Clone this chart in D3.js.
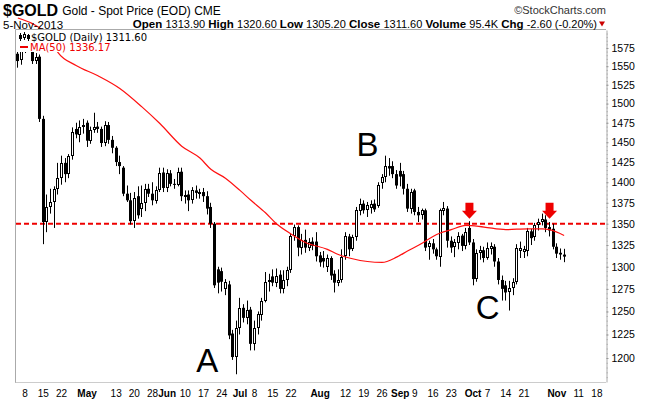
<!DOCTYPE html>
<html><head><meta charset="utf-8">
<script src="https://cdn.jsdelivr.net/npm/d3@7"></script>
<style>body{margin:0;background:#fff;} svg{display:block;}</style>
</head><body><svg id="c" width="650" height="400"></svg>
<script>
// ---------- DATA ----------
const dates = [
"2013-04-04","2013-04-05","2013-04-08","2013-04-09","2013-04-10","2013-04-11","2013-04-12","2013-04-15","2013-04-16","2013-04-17","2013-04-18","2013-04-19","2013-04-22","2013-04-23","2013-04-24","2013-04-25","2013-04-26","2013-04-29","2013-04-30",
"2013-05-01","2013-05-02","2013-05-03","2013-05-06","2013-05-07","2013-05-08","2013-05-09","2013-05-10","2013-05-13","2013-05-14","2013-05-15","2013-05-16","2013-05-17","2013-05-20","2013-05-21","2013-05-22","2013-05-23","2013-05-24","2013-05-28","2013-05-29","2013-05-30","2013-05-31",
"2013-06-03","2013-06-04","2013-06-05","2013-06-06","2013-06-07","2013-06-10","2013-06-11","2013-06-12","2013-06-13","2013-06-14","2013-06-17","2013-06-18","2013-06-19","2013-06-20","2013-06-21","2013-06-24","2013-06-25","2013-06-26","2013-06-27","2013-06-28",
"2013-07-01","2013-07-02","2013-07-03","2013-07-05","2013-07-08","2013-07-09","2013-07-10","2013-07-11","2013-07-12","2013-07-15","2013-07-16","2013-07-17","2013-07-18","2013-07-19","2013-07-22","2013-07-23","2013-07-24","2013-07-25","2013-07-26","2013-07-29","2013-07-30","2013-07-31",
"2013-08-01","2013-08-02","2013-08-05","2013-08-06","2013-08-07","2013-08-08","2013-08-09","2013-08-12","2013-08-13","2013-08-14","2013-08-15","2013-08-16","2013-08-19","2013-08-20","2013-08-21","2013-08-22","2013-08-23","2013-08-26","2013-08-27","2013-08-28","2013-08-29","2013-08-30",
"2013-09-03","2013-09-04","2013-09-05","2013-09-06","2013-09-09","2013-09-10","2013-09-11","2013-09-12","2013-09-13","2013-09-16","2013-09-17","2013-09-18","2013-09-19","2013-09-20","2013-09-23","2013-09-24","2013-09-25","2013-09-26","2013-09-27","2013-09-30",
"2013-10-01","2013-10-02","2013-10-03","2013-10-04","2013-10-07","2013-10-08","2013-10-09","2013-10-10","2013-10-11","2013-10-14","2013-10-15","2013-10-16","2013-10-17","2013-10-18","2013-10-21","2013-10-22","2013-10-23","2013-10-24","2013-10-25","2013-10-28","2013-10-29","2013-10-30","2013-10-31",
"2013-11-01","2013-11-04","2013-11-05"];

const opens = [1567,1558,1579,1574,1585,1557,1563,1480,1352,1370,1376,1392,1405,1424,1410,1432,1467,1460,1470,
1475,1452,1466,1470,1467,1449,1472,1453,1443,1425,1418,1386,1378,1353,1383,1368,1375,1392,1386,1378,1391,1412,
1393,1411,1398,1397,1413,1383,1385,1378,1390,1387,1388,1383,1370,1350,1297,1295,1275,1280,1226,1201,
1232,1254,1243,1252,1215,1232,1247,1262,1283,1289,1282,1291,1275,1285,1296,1335,1346,1322,1331,1322,1329,1329,
1313,1310,1300,1310,1292,1282,1285,1312,1335,1320,1334,1366,1374,1366,1368,1374,1372,1399,1406,1420,1420,1410,
1414,1410,1392,1368,1390,1364,1360,1366,1322,1327,1320,1311,1366,1368,1330,1322,1328,1336,1324,1345,
1328,1286,1316,1319,1310,1320,1323,1306,1285,1279,1271,1276,1283,1318,1317,1318,1341,1334,1348,1352,1355,1346,1344,
1323,1316,1313.9];
const highs = [1571,1586,1588,1590,1590,1568,1566,1484,1385,1392,1395,1424,1433,1430,1435,1469,1475,1478,1480,
1478,1470,1488,1476,1470,1477,1476,1458,1445,1433,1420,1396,1387,1388,1395,1396,1398,1398,1400,1395,1418,1418,
1416,1415,1404,1418,1418,1390,1390,1394,1396,1392,1393,1389,1375,1352,1300,1299,1286,1284,1230,1240,
1265,1258,1262,1255,1240,1250,1265,1294,1292,1297,1298,1296,1296,1300,1339,1349,1348,1338,1343,1333,1334,1340,
1317,1318,1314,1312,1296,1297,1320,1340,1338,1337,1370,1380,1378,1376,1378,1379,1400,1410,1433,1430,1426,1415,
1424,1414,1398,1392,1392,1370,1368,1368,1330,1332,1322,1368,1376,1371,1335,1332,1340,1338,1345,1353,
1332,1320,1324,1323,1328,1328,1326,1310,1290,1284,1284,1287,1326,1329,1324,1345,1344,1351,1356,1362,1360,1352,1350,
1327,1321,1320.6];
const lows = [1548,1552,1568,1572,1553,1553,1476,1326,1340,1362,1345,1385,1397,1400,1405,1428,1455,1450,1461,
1444,1448,1462,1462,1444,1445,1448,1436,1420,1410,1383,1376,1349,1345,1356,1358,1365,1382,1372,1374,1388,1388,
1388,1395,1392,1395,1377,1374,1365,1374,1380,1380,1376,1361,1345,1276,1270,1272,1268,1220,1198,1183,
1225,1238,1236,1208,1208,1225,1240,1260,1272,1278,1277,1270,1270,1278,1293,1330,1312,1314,1316,1318,1319,1306,
1300,1299,1294,1285,1271,1278,1282,1308,1312,1318,1330,1360,1362,1358,1362,1364,1369,1392,1400,1408,1405,1392,
1395,1385,1364,1362,1360,1352,1355,1318,1308,1315,1308,1300,1360,1322,1316,1311,1320,1318,1320,1325,
1279,1283,1308,1305,1308,1314,1300,1280,1262,1262,1251,1268,1280,1310,1310,1312,1325,1330,1342,1348,1340,1335,1320,
1310,1308,1305.2];
const closes = [1557,1579,1574,1585,1557,1563,1480,1352,1370,1376,1392,1405,1424,1410,1432,1463,1460,1470,1472,
1452,1466,1470,1467,1449,1472,1453,1443,1425,1420,1386,1378,1353,1381,1360,1375,1392,1386,1378,1391,1412,1393,
1411,1398,1397,1413,1383,1385,1378,1390,1387,1388,1383,1368,1350,1279,1282,1283,1283,1224,1201,1232,
1254,1243,1252,1215,1232,1247,1262,1283,1285,1282,1290,1275,1285,1296,1335,1346,1322,1331,1322,1329,1324,1312,
1305,1306,1310,1290,1282,1285,1311,1335,1320,1334,1366,1374,1366,1372,1373,1367,1397,1406,1420,1417,1410,1396,
1407,1392,1368,1388,1364,1360,1366,1322,1327,1320,1312,1366,1369,1330,1322,1328,1336,1324,1340,1328,
1286,1316,1319,1310,1322,1324,1306,1285,1275,1271,1276,1283,1322,1321,1320,1341,1333,1348,1352,1355,1345,1342,1323,
1315,1314,1311.6];

// empty future sessions shown on the time axis
const futureDates = ["2013-11-06","2013-11-07","2013-11-08","2013-11-11","2013-11-12","2013-11-13","2013-11-14","2013-11-15","2013-11-18","2013-11-19","2013-11-20"];

// 50-day moving average
const maDates  = ["2013-04-04","2013-04-10","2013-04-15","2013-04-17","2013-04-19","2013-04-26","2013-05-06","2013-05-14","2013-05-22","2013-05-30","2013-06-07","2013-06-14","2013-06-19","2013-06-25","2013-07-01","2013-07-05","2013-07-11","2013-07-16","2013-07-22","2013-07-26","2013-08-05","2013-08-08","2013-08-13","2013-08-20","2013-08-26","2013-08-30","2013-09-05","2013-09-11","2013-09-16","2013-09-18","2013-09-23","2013-09-27","2013-10-04","2013-10-14","2013-10-22","2013-10-28","2013-10-30","2013-11-05"];
const maValues = [1617,1609,1599,1586,1569,1551,1537,1520,1496,1474,1445,1430,1416,1405,1390,1378,1363,1350,1338,1328,1320,1314,1310,1306,1305,1311,1318,1327,1335,1339,1343,1348,1346,1343,1344,1344,1343,1336.17];

const yTicks = [1200,1225,1250,1275,1300,1325,1350,1375,1400,1425,1450,1475,1500,1525,1550,1575];
const yMinorTicks = d3.range(1180, 1600, 5);
const xTickDates  = ["2013-04-08","2013-04-15","2013-04-22","2013-05-01","2013-05-13","2013-05-20","2013-05-28","2013-06-03","2013-06-10","2013-06-17","2013-06-24","2013-07-01","2013-07-08","2013-07-15","2013-07-22","2013-08-01","2013-08-12","2013-08-19","2013-08-26","2013-09-03","2013-09-09","2013-09-16","2013-09-23","2013-10-01","2013-10-07","2013-10-14","2013-10-21","2013-11-01","2013-11-11","2013-11-18"];
const xTickLabels = ["8","15","22","May","13","20","28","Jun","10","17","24","Jul","8","15","22","Aug","12","19","26","Sep","9","16","23","Oct","7","14","21","Nov","11","18"];

const resistanceLevel = 1350;
const arrowDates = ["2013-09-30","2013-10-30"];
const arrowTipPrice = 1356;
const letters = [ {t:"A", d:"2013-06-18", p:1185}, {t:"B", d:"2013-08-20", p:1433}, {t:"C", d:"2013-10-07", p:1242} ];

// ---------- CHART ----------
const svg = d3.select("#c");
const L = 16, R = 606, T = 30, B = 382;
const FONT = "'Liberation Sans', Arial, sans-serif";
const allDates = dates.concat(futureDates);
const x = d3.scaleBand().domain(allDates).range([L, R]);
const y = d3.scaleLog().domain([1175, 1600]).range([B, T]);
const cx = d => Math.round(x(d) + x.bandwidth() / 2 - 0.5);

const plot = svg.append("g");

// resistance line
plot.append("line").attr("x1", L).attr("x2", R)
  .attr("y1", y(resistanceLevel)).attr("y2", y(resistanceLevel))
  .attr("stroke", "#ee0000").attr("stroke-width", 2).attr("stroke-dasharray", "5,3");

// candles
const candles = dates.map((d, i) => ({d, o: opens[i], h: highs[i], l: lows[i], c: closes[i]}));
const cg = plot.append("g");
cg.selectAll("line.w").data(candles).join("line")
  .attr("x1", d => cx(d.d) + 0.5).attr("x2", d => cx(d.d) + 0.5)
  .attr("y1", d => y(d.h)).attr("y2", d => y(d.l))
  .attr("stroke", "#000").attr("stroke-width", 1);
cg.selectAll("rect.f").data(candles.filter(d => d.c < d.o)).join("rect")
  .attr("x", d => cx(d.d) - 1).attr("width", 3)
  .attr("y", d => y(d.o)).attr("height", d => Math.max(1, y(d.c) - y(d.o)))
  .attr("fill", "#000");
cg.selectAll("rect.h").data(candles.filter(d => d.c >= d.o)).join("rect")
  .attr("x", d => cx(d.d) - 0.5).attr("width", 2)
  .attr("y", d => Math.round(y(d.c)) + 0.5).attr("height", d => Math.max(1, Math.round(y(d.o) - y(d.c)) - 1))
  .attr("fill", "#fff").attr("stroke", "#000").attr("stroke-width", 1);

// moving average
const ma = maDates.map((d, i) => ({d, v: maValues[i]}));
plot.append("path").datum(ma)
  .attr("d", d3.line().x(d => x(d.d) + x.bandwidth() / 2).y(d => y(d.v)).curve(d3.curveMonotoneX))
  .attr("fill", "none").attr("stroke", "#ff1010").attr("stroke-width", 1.2);

// arrows
arrowDates.forEach(d => {
  const ax = x(d) + x.bandwidth() / 2, ty = y(arrowTipPrice);
  plot.append("path")
    .attr("d", `M${ax-4},${ty-16} L${ax+4},${ty-16} L${ax+4},${ty-8} L${ax+7.5},${ty-8} L${ax},${ty} L${ax-7.5},${ty-8} L${ax-4},${ty-8} Z`)
    .attr("fill", "#ee0000");
});

// letters
letters.forEach(o => {
  plot.append("text").attr("x", x(o.d) + x.bandwidth() / 2).attr("y", y(o.p))
    .attr("text-anchor", "middle").attr("font-family", FONT).attr("font-size", 33).attr("fill", "#000").text(o.t);
});

// frame
svg.append("line").attr("x1", L - 0.5).attr("x2", R).attr("y1", T - 0.5).attr("y2", T - 0.5).attr("stroke", "#aaa");
svg.append("line").attr("x1", L - 0.5).attr("x2", L - 0.5).attr("y1", T - 0.5).attr("y2", B + 0.5).attr("stroke", "#aaa");
svg.append("line").attr("x1", L - 0.5).attr("x2", R).attr("y1", B + 0.5).attr("y2", B + 0.5).attr("stroke", "#999").attr("stroke-dasharray", "1,1");

// right axis (minor ticks, then labelled ticks)
svg.append("g").attr("transform", `translate(${R + 0.5},0)`)
  .call(d3.axisRight(y).tickValues(yMinorTicks).tickFormat("").tickSize(1.5).tickSizeOuter(0))
  .call(g => g.select(".domain").remove())
  .call(g => g.selectAll(".tick line").attr("stroke", "#bbb"));
const yAxis = svg.append("g").attr("transform", `translate(${R + 0.5},0)`)
  .call(d3.axisRight(y).tickValues(yTicks).tickFormat(d3.format("d")).tickSize(2).tickSizeOuter(0).tickPadding(3));
yAxis.select(".domain").attr("stroke", "#aaa");
yAxis.selectAll(".tick line").attr("stroke", "#999");
yAxis.selectAll("text").attr("font-family", FONT).attr("font-size", 10.5).attr("fill", "#000");

// bottom axis
const xAxis = svg.append("g").attr("transform", `translate(0,${B})`)
  .call(d3.axisBottom(x).tickValues(xTickDates).tickFormat((d, i) => xTickLabels[i]).tickSize(0).tickPadding(8));
xAxis.select(".domain").remove();
xAxis.selectAll("text").attr("font-family", FONT).attr("font-size", 10).attr("fill", "#000")
  .attr("font-weight", (d, i) => /^[A-Z]/.test(xTickLabels[i]) ? "bold" : "normal");

// legend
svg.append("rect").attr("x", L).attr("y", T).attr("width", 140).attr("height", 22).attr("fill", "#fff");
const ic = svg.append("g").attr("stroke", "#000");
ic.append("line").attr("x1", 20.5).attr("x2", 20.5).attr("y1", 33).attr("y2", 41);
ic.append("rect").attr("x", 19).attr("y", 35).attr("width", 3).attr("height", 4).attr("fill", "#000").attr("stroke", "none");
ic.append("line").attr("x1", 24.5).attr("x2", 24.5).attr("y1", 32).attr("y2", 40);
ic.append("rect").attr("x", 23.5).attr("y", 34.5).attr("width", 2).attr("height", 3).attr("fill", "#fff");
ic.append("line").attr("x1", 28.5).attr("x2", 28.5).attr("y1", 34).attr("y2", 41);
ic.append("rect").attr("x", 27).attr("y", 35).attr("width", 3).attr("height", 4).attr("fill", "#000").attr("stroke", "none");
svg.append("text").attr("x", 31).attr("y", 41).attr("font-family", "'DejaVu Sans', Verdana, sans-serif")
  .attr("font-size", 10).attr("fill", "#000").text("$GOLD (Daily) 1311.60");
svg.append("line").attr("x1", 20).attr("x2", 28).attr("y1", 47).attr("y2", 47).attr("stroke", "#ee0000").attr("stroke-width", 2);
svg.append("text").attr("x", 30).attr("y", 51).attr("font-family", "'DejaVu Sans', Verdana, sans-serif")
  .attr("font-size", 10).attr("fill", "#ee0000").text("MA(50) 1336.17");

// header
const t1 = svg.append("text").attr("x", 3).attr("y", 15.5).attr("font-family", FONT).attr("font-size", 16)
  .attr("font-weight", "bold").attr("fill", "#000").text("$GOLD");
const w1 = t1.node().getComputedTextLength();
svg.append("text").attr("x", 3 + w1 + 4).attr("y", 15).attr("font-family", FONT).attr("font-size", 12)
  .attr("fill", "#000").text("Gold - Spot Price (EOD) CME");
svg.append("text").attr("x", 606).attr("y", 14).attr("text-anchor", "end").attr("font-family", FONT)
  .attr("font-size", 11).attr("fill", "#333").text("\u00A9StockCharts.com");
svg.append("text").attr("x", 3).attr("y", 28.5).attr("font-family", FONT).attr("font-size", 11.5)
  .attr("fill", "#000").text("5-Nov-2013");
const info = svg.append("text").attr("x", 597).attr("y", 28).attr("text-anchor", "end")
  .attr("font-family", FONT).attr("font-size", 11).attr("fill", "#000");
[["Open ", true], ["1313.90 ", false], ["High ", true], ["1320.60 ", false], ["Low ", true], ["1305.20 ", false],
 ["Close ", true], ["1311.60 ", false], ["Volume ", true], ["95.4K ", false], ["Chg ", true], ["-2.60 (-0.20%)", false]]
  .forEach(([s, b]) => info.append("tspan").attr("font-weight", b ? "bold" : "normal")
    .attr("font-size", b ? 11.5 : 11).text(s));
svg.append("path").attr("d", "M599,21.5 L605,21.5 L602,26.5 Z").attr("fill", "#cc0000");
</script></body></html>
